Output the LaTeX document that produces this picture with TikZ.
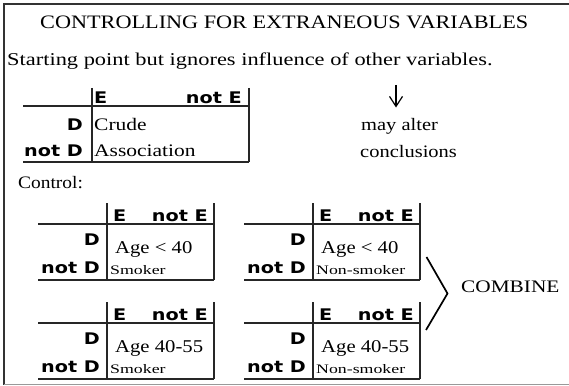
\documentclass[tikz,border=0pt]{standalone}
\usepackage{fontspec}
\usepackage{graphicx}
\setmainfont{Liberation Serif}
\newfontfamily\labfont{DejaVu Sans}
\usetikzlibrary{arrows.meta}
\newcommand\tx[3]{\scalebox{#2}[1]{\fontsize{#1}{#1}\selectfont #3}}
\newcommand\lb[1]{\scalebox{1.2}[1]{\labfont\bfseries\fontsize{16}{16}\selectfont #1}}
\newcommand\ctab[5]{%
\begin{scope}[shift={(#2,#3)}]
\draw[rule] (38,224) -- (214,224);
\draw[rule] (107,203) -- (107,280);
\draw[rule] (214,203) -- (214,280);
\draw[rule] (38,280) -- (214,280);
\node[txt] (#1-e) at (113,221) {\lb{E}};
\node[rtxt] (#1-ne) at (208,221) {\lb{not E}};
\node[rtxt] (#1-d) at (100,245) {\lb{D}};
\node[rtxt] (#1-nd) at (100,273) {\lb{not D}};
\node[txt] (#1-age) at (115,253) {\tx{18}{1.15}{#4}};
\node[txt] (#1-s) at (110,274) {\tx{13}{1.37}{#5}};
\end{scope}}
\begin{document}
\begin{tikzpicture}[x=1pt,y=-1pt,
  txt/.style={inner sep=0pt, anchor=base west},
  rtxt/.style={inner sep=0pt, anchor=base east},
  rule/.style={line width=1.3pt, draw=black!85}]
\useasboundingbox (0,0) rectangle (569,385);
% frame
\draw[line width=1.3pt, black!80] (569,4) -- (4,4) -- (4,385);
\draw[line width=1.2pt, black!40] (4,384.2) -- (569,384.2);
% heading
\node[txt] (title) at (40,29) {\tx{19}{1.17}{CONTROLLING FOR EXTRANEOUS VARIABLES}};
\node[txt] (intro) at (7,65.5) {\tx{18}{1.245}{Starting point but ignores influence of other variables.}};
% crude table
\draw[rule] (23,106) -- (249,106);
\draw[rule] (92,88) -- (92,162);
\draw[rule] (249,88) -- (249,162);
\draw[rule] (23,162) -- (249,162);
\node[txt] (t-e) at (94,103) {\lb{E}};
\node[rtxt] (t-ne) at (242,103) {\lb{not E}};
\node[rtxt] (t-d) at (83,130) {\lb{D}};
\node[rtxt] (t-nd) at (83,156) {\lb{not D}};
\node[txt] (crude) at (94,130) {\tx{17.6}{1.22}{Crude}};
\node[txt] (assoc) at (94,156) {\tx{17.6}{1.22}{Association}};
% arrow and note
\coordinate (atop) at (396,85);
\coordinate (abot) at (396,107.5);
\draw[line width=1.2pt, -{Straight Barb[length=10pt, width=13pt]}] (atop) -- (abot);
\node[txt] (may) at (361,130) {\tx{17.5}{1.17}{may alter}};
\node[txt] (concl) at (360,157) {\tx{17.5}{1.17}{conclusions}};
% control
\node[txt] (control) at (18,188) {\tx{17.5}{1.11}{Control:}};
\ctab{tl}{0}{0}{Age < 40}{Smoker}
\ctab{tr}{206}{0}{Age < 40}{Non-smoker}
\ctab{bl}{0}{99}{Age 40-55}{Smoker}
\ctab{br}{206}{99}{Age 40-55}{Non-smoker}
% combine bracket
\coordinate (b1) at (426.5,257);
\coordinate (b2) at (447.5,293.5);
\coordinate (b3) at (426,330);
\draw[line width=1.7pt] (b1) -- (b2) -- (b3);
\node[txt] (combine) at (461,292) {\tx{17.6}{1.21}{COMBINE}};
\end{tikzpicture}
\end{document}
